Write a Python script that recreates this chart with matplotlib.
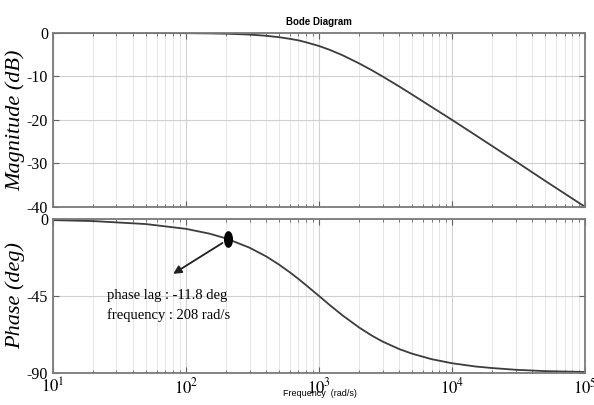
import numpy as np
import matplotlib.pyplot as plt
from matplotlib.path import Path
from matplotlib.transforms import Affine2D

plt.rcParams['mathtext.fontset'] = 'stix'

# values
freq = [10, 20, 50, 100, 150, 200, 300, 400, 500, 600, 700, 800, 1000, 1200,
        1500, 2000, 2500, 3000, 4000, 5000, 7000, 10000, 15000, 20000, 30000,
        50000, 100000]
magnitude = [0.0, -0.002, -0.01, -0.04, -0.1, -0.17, -0.37, -0.65, -0.97, -1.34,
             -1.7, -2.15, -3.0, -3.87, -5.12, -7.0, -8.6, -10.0, -12.3, -14.15,
             -17.0, -20.0, -23.5, -26.0, -29.5, -34.0, -40.0]
phase = [-0.6, -1.15, -2.9, -5.7, -8.5, -11.3, -16.7, -21.8, -26.6, -31.0, -35.0,
         -38.7, -45.0, -50.2, -56.3, -63.4, -68.2, -71.6, -76.0, -78.7, -81.9,
         -84.3, -86.2, -87.1, -88.1, -88.9, -89.4]
mark_freq, mark_phase = 208, -11.8
mag_ticks = [0, -10, -20, -30, -40]
phase_ticks = [0, -45, -90]

fig = plt.figure(figsize=(5.94, 4.05), dpi=100)
ax1 = fig.add_axes([0.0892, 0.489, 0.896, 0.4296])
ax2 = fig.add_axes([0.0892, 0.079, 0.896, 0.380])

serif = 'Liberation Serif'
for ax in (ax1, ax2):
    ax.set_xscale('log')
    ax.set_xlim(10, 1e5)
    ax.grid(True, which='major', color='#d0d0d0', lw=0.8)
    ax.grid(True, which='minor', color='#e2e2e2', lw=0.6)
    ax.tick_params(which='both', direction='in', top=True, right=True,
                   colors='#606060', labelcolor='black', labelsize=11)
    ax.tick_params(which='major', length=4)
    ax.tick_params(which='minor', length=2.5)
    for s in ax.spines.values():
        s.set_color('#7a7a7a')
        s.set_linewidth(1.3)

ax1.plot(freq, magnitude, color='#3c3c3c', lw=1.3)
ax1.set_ylim(-40, 0)
ax1.set_yticks(mag_ticks)
ax1.set_yticklabels([str(t) for t in mag_ticks], family=serif, fontsize=11.5)
ax1.tick_params(axis='x', labelbottom=False)
ax1.set_ylabel('Magnitude (dB)', family=serif, style='italic', fontsize=16, labelpad=1)
ax1.set_title('Bode Diagram', family='Liberation Sans', fontweight='bold', fontsize=7, pad=6)

ax2.plot(freq, phase, color='#3c3c3c', lw=1.3)
ax2.set_ylim(-90, 0)
ax2.set_yticks(phase_ticks)
ax2.set_yticklabels([str(t) for t in phase_ticks], family=serif, fontsize=11.5)
ax2.set_xticks([1e1, 1e2, 1e3, 1e4, 1e5])
ax2.set_xticklabels([r'$10^{%d}$' % k for k in range(1, 6)], fontsize=12)
ax2.set_ylabel('Phase (deg)', family=serif, style='italic', fontsize=16, labelpad=1)

# marker and annotation
oval = Path.unit_circle().transformed(Affine2D().scale(0.5, 1.0))
ax2.plot([mark_freq], [mark_phase], marker=oval, markersize=11, color='black', zorder=5)
ax2.annotate('', xy=(80, -32), xytext=(mark_freq, mark_phase),
             arrowprops=dict(arrowstyle='-|>', color='#202020', lw=1.3,
                             shrinkA=5, shrinkB=0, mutation_scale=12))
ax2.text(25.5, -44.5, 'phase lag : -11.8 deg', family=serif, fontsize=10.5, va='center')
ax2.text(25.5, -56, 'frequency : 208 rad/s', family=serif, fontsize=10.5, va='center')

fig.text(0.539, 0.018, 'Frequency  (rad/s)', family='Liberation Sans', fontsize=6.5,
         ha='center', va='bottom')

plt.savefig('out.png', dpi=100)
